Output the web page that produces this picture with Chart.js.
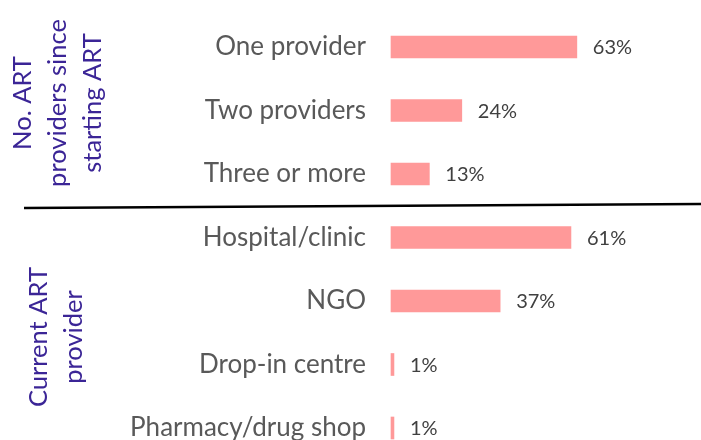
<!DOCTYPE html>
<html>
<head>
<meta charset="utf-8">
<script src="https://cdn.jsdelivr.net/npm/chart.js@4.4.1/dist/chart.umd.min.js"></script>
<style>
    body { margin: 0; background: #fff; }
    #wrap { width: 701px; height: 440px; }
</style>
</head>
<body>
<div id="wrap"><canvas id="chart" width="701" height="440"></canvas></div>
<script>
// Datos
const categories = ['One provider', 'Two providers', 'Three or more', 'Hospital/clinic', 'NGO', 'Drop-in centre', 'Pharmacy/drug shop'];
const shares = [63, 24, 13, 61, 37, 1, 1];
const groupTitles = [
    ['No. ART', 'providers since', 'starting ART'],
    ['Current ART', 'provider']
];

// Etiquetas de valor al final de cada barra
const valueLabels = {
    id: 'valueLabels',
    afterDatasetsDraw(chart) {
        const ctx = chart.ctx;
        const meta = chart.getDatasetMeta(0);
        ctx.save();
        ctx.font = '20px Lato';
        ctx.fillStyle = '#404040';
        ctx.textAlign = 'left';
        ctx.textBaseline = 'middle';
        meta.data.forEach((bar, i) => {
            ctx.fillText(shares[i] + '%', bar.x + 16, bar.y + 1);
        });
        ctx.restore();
    }
};

// Títulos de grupo verticales y línea separadora
const groupDecor = {
    id: 'groupDecor',
    afterDraw(chart) {
        const ctx = chart.ctx;
        ctx.save();
        ctx.strokeStyle = '#000';
        ctx.lineWidth = 2.5;
        ctx.beginPath();
        ctx.moveTo(24, 208);
        ctx.lineTo(701, 204);
        ctx.stroke();

        ctx.font = '25.5px Lato';
        ctx.fillStyle = '#3b2596';
        ctx.textAlign = 'center';
        ctx.textBaseline = 'alphabetic';
        const spots = [{ x: 31, y: 103 }, { x: 47, y: 337 }];
        groupTitles.forEach((lines, g) => {
            ctx.save();
            ctx.translate(spots[g].x, spots[g].y);
            ctx.rotate(-Math.PI / 2);
            lines.forEach((line, i) => {
                ctx.fillText(line, 0, i * 35);
            });
            ctx.restore();
        });
        ctx.restore();
    }
};

new Chart(document.getElementById('chart').getContext('2d'), {
    type: 'bar',
    data: {
        labels: categories,
        datasets: [{
            data: shares,
            backgroundColor: '#ff9999',
            borderWidth: 0,
            barThickness: 22,
            clip: false
        }]
    },
    options: {
        indexAxis: 'y',
        responsive: false,
        animation: false,
        layout: { padding: { top: 47, bottom: 12, left: 0, right: 15 } },
        plugins: {
            legend: { display: false },
            tooltip: { enabled: false }
        },
        scales: {
            x: { display: false, min: 0, max: 100 },
            y: {
                offset: false,
                grid: { display: false, drawTicks: false },
                border: { display: false },
                ticks: {
                    padding: 25,
                    color: '#595959',
                    font: { family: 'Lato', size: 26 }
                },
                afterFit(scale) {
                    scale.width = 391;
                    scale.paddingTop = 0;
                    scale.paddingBottom = 0;
                }
            }
        }
    },
    plugins: [valueLabels, groupDecor]
});
</script>
</body>
</html>
